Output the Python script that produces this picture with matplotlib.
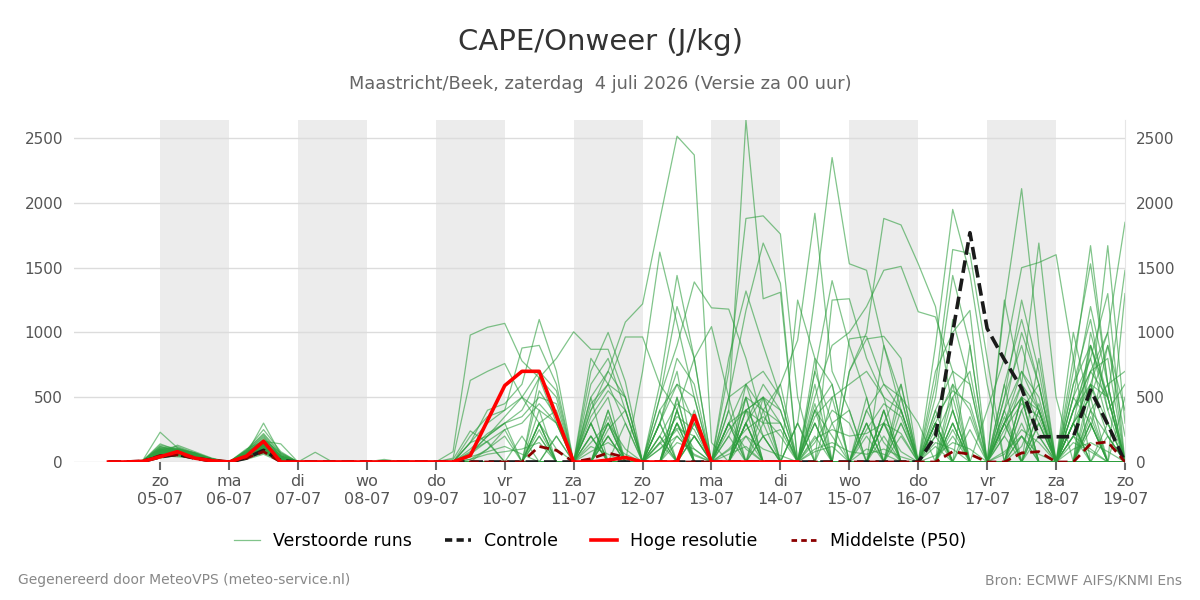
import numpy as np
import pandas as pd
import matplotlib
matplotlib.use('Agg')
import matplotlib.pyplot as plt
from matplotlib.lines import Line2D

# 6-hourly steps, 04-07 06:00 .. 19-07 00:00 (60 values)
times = pd.date_range('2026-07-04 06:00', '2026-07-19 00:00', freq='6h')

# ensemble members (J/kg), grouped per day: 04-07 (3) | 05-07 .. 18-07 (4 each) | 19-07 00:00
members = [
    [0,0,10, 80,60,40,10, 0,40,120,20, 0,0,0,0, 0,0,0,0, 0,80,980,1040, 1070,780,650,300, 0,150,300,100, 0,0,200,60, 0,100,250,350, 200,0,150,400, 300,0,300,80, 0,120,0,250, 0,0,120,450, 0,200,100,0, 0],
    [0,0,5, 120,90,50,15, 0,80,200,40, 0,0,0,0, 0,0,0,0, 0,0,150,400, 450,600,1100,700, 0,200,0,0, 0,100,250,0, 0,300,100,0, 0,0,400,200, 0,0,0,500, 300,0,200,0, 0,0,400,0, 0,0,250,900, 200],
    [0,0,15, 230,110,60,20, 0,30,90,10, 0,0,0,0, 0,0,0,0, 0,30,630,700, 760,500,300,100, 0,0,250,400, 0,150,0,0, 0,200,500,400, 300,0,450,0, 0,300,0,0, 0,0,250,0, 0,350,0,200, 0,0,500,0, 0],
    [0,0,0, 40,70,60,20, 0,60,300,60, 0,0,0,0, 0,0,0,0, 0,0,60,200, 300,400,650,800, 1005,870,870,500, 0,0,300,100, 0,0,0,400, 0,0,200,0, 0,400,150,0, 0,0,0,350, 0,0,200,0, 0,300,0,0, 0],
    [0,0,10, 60,130,80,30, 0,100,160,140, 0,0,0,0, 0,0,0,0, 0,20,240,150, 0,0,0,200, 0,700,1000,620, 0,0,0,200, 0,300,0,200, 250,0,700,300, 0,0,200,0, 0,300,0,0, 0,0,500,0, 0,0,400,0, 0],
    [0,0,0, 30,50,30,5, 0,20,60,0, 0,75,0,0, 0,0,0,0, 0,0,0,100, 200,0,0,0, 0,400,700,1080, 1220,1870,2515,2370, 150,0,0,0, 0,300,0,0, 0,0,400,0, 0,0,500,0, 0,200,0,0, 0,0,0,300, 0],
    [0,0,10, 90,80,50,20, 0,50,150,30, 0,0,0,0, 0,0,0,0, 0,0,0,0, 0,0,300,400, 0,200,0,0, 700,1620,1070,500, 0,0,300,0, 0,0,0,0, 0,0,400,0, 0,200,0,0, 0,0,0,400, 0,0,300,0, 0],
    [0,0,5, 70,100,60,25, 0,70,180,50, 0,0,0,0, 0,0,0,0, 0,0,0,0, 0,0,0,0, 0,400,600,965, 965,600,400,800, 1045,500,0,0, 0,0,300,0, 0,0,0,300, 0,0,0,0, 0,600,0,0, 0,0,0,200, 0],
    [0,0,10, 50,40,30,10, 0,30,100,20, 0,0,0,0, 0,20,0,0, 0,0,20,100, 250,0,0,0, 0,300,0,0, 0,600,1440,800, 0,0,0,200, 0,0,0,500, 0,0,0,0, 0,250,0,0, 0,0,400,600, 0,0,600,200, 0],
    [0,0,10, 100,70,50,15, 0,60,130,20, 0,0,0,0, 0,0,0,0, 0,0,0,0, 0,0,250,0, 0,0,400,0, 0,500,900,1390, 1190,1180,800,300, 0,0,0,0, 0,300,0,0, 0,0,0,0, 0,0,0,300, 0,0,0,0, 0],
    [0,0,0, 60,90,70,20, 0,40,140,40, 0,0,0,0, 0,0,0,0, 0,0,0,0, 0,0,0,0, 0,0,350,0, 0,200,0,0, 0,400,2640,1260, 1310,0,0,0, 0,0,300,0, 0,0,0,0, 0,300,0,0, 0,0,0,0, 0],
    [0,0,10, 110,100,60,20, 0,90,210,60, 0,0,0,0, 0,0,0,0, 0,0,0,0, 0,0,400,0, 0,0,0,0, 0,0,300,0, 0,700,1880,1900, 1760,500,0,0, 0,0,0,200, 0,0,0,0, 0,0,0,0, 0,0,350,0, 0],
    [0,0,5, 90,60,40,10, 0,50,110,30, 0,0,0,0, 0,0,0,0, 0,0,0,0, 0,0,0,0, 0,0,200,0, 0,300,0,0, 0,500,1170,1690, 1380,0,0,0, 0,0,0,0, 0,300,0,0, 0,0,0,0, 0,200,0,0, 0],
    [0,0,10, 140,90,50,20, 0,70,170,70, 0,0,0,0, 0,10,0,0, 0,0,0,0, 0,0,200,0, 0,0,300,0, 0,0,0,200, 0,0,0,300, 600,940,1920,700, 400,0,0,0, 0,0,300,0, 0,0,0,0, 0,0,0,0, 500],
    [0,0,0, 50,80,50,20, 0,40,90,10, 0,0,0,0, 0,0,0,0, 0,0,0,0, 0,0,0,0, 0,0,0,0, 0,400,0,0, 0,0,500,0, 0,300,1276,2350, 1530,1480,900,500, 0,0,0,0, 0,0,200,0, 0,0,0,0, 0],
    [0,0,10, 70,70,40,10, 0,60,140,30, 0,0,0,0, 0,0,0,0, 0,0,0,0, 0,0,0,0, 0,200,0,0, 0,0,500,0, 0,0,300,600, 400,0,0,0, 700,1000,1880,1830, 1530,1200,400,0, 0,0,0,300, 0,0,0,0, 0],
    [0,0,10, 60,100,70,20, 0,50,100,40, 0,0,0,0, 0,0,0,0, 0,0,0,0, 0,0,0,0, 0,0,0,300, 0,0,0,0, 0,200,0,0, 0,0,500,900, 1000,1200,1480,1510, 1160,1120,700,0, 0,0,0,0, 0,300,0,0, 0],
    [0,0,5, 80,60,50,10, 0,30,80,20, 0,0,0,0, 0,0,0,0, 0,0,0,0, 0,0,0,0, 0,0,0,0, 0,0,400,0, 0,0,300,0, 0,0,0,0, 0,0,0,400, 0,900,1950,1450, 600,0,0,0, 0,0,300,0, 0],
    [0,0,10, 100,80,60,20, 0,60,150,30, 0,0,0,0, 0,0,0,0, 0,0,0,0, 0,0,200,0, 0,0,0,0, 0,0,0,0, 0,0,400,500, 300,0,0,0, 0,0,300,600, 0,600,1640,1610, 800,0,0,0, 0,0,0,0, 0],
    [0,0,0, 50,70,40,15, 0,40,120,30, 0,0,0,0, 0,0,0,0, 0,0,0,0, 0,0,0,0, 0,0,0,0, 0,300,0,0, 0,0,600,200, 0,0,0,0, 0,0,0,300, 0,0,0,0, 0,1200,2110,900, 0,0,0,0, 0],
    [0,0,10, 90,110,70,25, 0,80,190,50, 0,0,0,0, 0,0,0,0, 0,0,0,0, 0,0,0,0, 0,0,400,0, 0,300,700,0, 0,0,0,0, 0,0,0,0, 0,300,0,0, 0,0,0,0, 400,800,1500,1540, 1600,800,0,0, 0],
    [0,0,10, 70,60,40,15, 0,40,110,30, 0,0,0,0, 0,0,0,0, 0,0,0,0, 0,0,0,0, 0,0,0,0, 0,0,0,0, 0,300,0,0, 0,0,800,0, 0,0,0,0, 0,0,400,0, 0,300,600,1690, 500,0,0,0, 0],
    [0,0,5, 60,90,60,20, 0,50,130,40, 0,0,0,0, 0,0,0,0, 0,0,0,0, 0,0,0,0, 0,500,0,0, 0,0,0,300, 0,0,0,0, 0,0,0,0, 0,0,0,0, 0,0,400,0, 0,0,0,0, 0,700,1670,600, 0],
    [0,0,10, 80,70,50,15, 0,70,160,40, 0,0,0,0, 0,0,0,0, 0,0,0,0, 0,0,0,0, 0,0,0,0, 0,0,400,0, 0,0,0,500, 0,0,300,0, 0,0,0,0, 0,0,0,0, 0,400,0,0, 0,300,500,1670, 300],
    [0,0,0, 40,60,40,10, 0,30,80,10, 0,0,0,0, 0,0,0,0, 0,0,0,0, 0,0,0,0, 0,0,300,0, 0,0,0,0, 0,0,0,0, 0,0,0,0, 0,0,900,400, 0,0,0,0, 0,0,500,0, 0,400,700,1000, 1850],
    [0,0,10, 120,80,50,20, 0,60,140,40, 0,0,0,0, 0,0,0,0, 0,0,200,350, 400,880,900,600, 0,300,0,0, 0,0,300,0, 0,400,0,0, 0,0,300,0, 0,0,400,0, 0,300,0,0, 0,0,300,0, 0,0,900,500, 1480],
    [0,0,5, 70,90,60,20, 0,50,120,30, 0,0,0,0, 0,0,0,0, 0,0,70,200, 350,500,400,300, 0,0,300,0, 0,0,0,400, 0,800,1320,900, 500,0,0,0, 0,200,0,0, 0,0,300,0, 0,0,0,400, 0,0,0,0, 0],
    [0,0,10, 90,70,40,15, 0,70,150,40, 0,0,0,0, 0,0,0,0, 0,0,0,0, 0,0,300,0, 0,300,0,0, 0,0,400,0, 0,0,300,0, 0,1250,800,600, 0,0,0,0, 0,500,1440,900, 0,0,0,0, 0,0,1000,500, 0],
    [0,0,0, 50,50,30,10, 0,30,80,20, 0,0,0,0, 0,0,0,0, 0,0,0,0, 0,200,0,0, 0,0,200,0, 0,300,600,500, 0,0,0,0, 0,0,0,1250, 1260,800,500,0, 0,0,300,0, 0,500,1250,700, 0,0,0,0, 0],
    [0,0,10, 100,120,70,25, 0,90,220,70, 0,0,0,0, 0,0,0,0, 0,0,150,200, 300,0,0,0, 0,600,800,400, 0,0,0,200, 0,0,300,0, 0,0,0,0, 950,970,600,400, 0,0,0,0, 0,300,0,0, 0,800,1530,600, 0],
    [0,0,5, 60,80,50,15, 0,40,100,30, 0,0,0,0, 0,0,0,0, 0,0,0,0, 0,0,0,0, 0,800,600,300, 0,200,0,0, 0,0,400,0, 0,0,700,1400, 900,500,0,0, 0,700,1000,1170, 0,0,0,0, 0,0,300,0, 0],
    [0,0,10, 80,60,50,10, 0,50,140,30, 0,0,0,0, 0,0,0,0, 0,0,0,0, 0,0,0,200, 0,0,0,0, 0,500,1200,800, 0,0,0,0, 0,300,0,0, 0,0,0,0, 0,0,0,900, 0,400,700,400, 0,1000,400,200, 0],
    [0,0,0, 60,70,40,10, 0,60,130,30, 0,0,0,0, 0,0,0,0, 0,0,0,0, 0,0,300,0, 0,0,0,0, 0,0,300,0, 0,500,600,400, 600,0,0,0, 700,950,970,800, 0,0,0,0, 0,1250,600,400, 0,0,0,0, 0],
    [0,0,10, 110,90,60,20, 0,80,160,50, 0,0,0,0, 0,0,0,0, 0,0,80,160, 250,300,450,300, 0,0,200,0, 0,300,800,600, 0,0,0,0, 0,0,400,0, 0,0,0,0, 0,300,0,0, 0,0,0,0, 0,600,900,400, 600],
    [0,0,5, 50,60,50,15, 0,40,90,20, 0,0,0,0, 0,0,0,0, 0,0,0,0, 0,0,0,0, 0,300,500,0, 0,0,0,0, 0,0,400,200, 0,0,0,0, 0,500,0,0, 0,0,1100,600, 0,0,0,0, 0,300,0,0, 1300],
    [0,0,10, 70,80,60,20, 0,60,120,30, 0,0,0,0, 0,0,0,0, 0,0,0,0, 0,0,550,350, 0,0,0,0, 0,400,600,300, 0,0,300,500, 400,0,600,0, 0,0,0,0, 0,0,0,0, 0,600,1100,600, 0,500,1200,600, 0],
    [0,0,10, 90,100,60,20, 0,70,150,40, 0,0,0,0, 0,0,0,0, 0,0,100,220, 300,350,500,450, 0,0,0,0, 0,0,0,0, 0,0,500,0, 0,0,0,0, 0,400,600,500, 0,0,0,0, 0,0,0,800, 0,200,600,1000, 0],
    [0,0,0, 40,50,40,10, 0,30,70,10, 0,0,0,0, 0,0,0,0, 0,0,0,0, 0,0,0,0, 0,0,0,0, 0,0,0,300, 0,0,0,0, 0,0,400,600, 0,0,0,0, 0,400,0,0, 0,300,500,200, 0,400,800,300, 0],
    [0,0,10, 100,80,50,15, 0,60,140,40, 0,0,0,0, 0,0,0,0, 0,0,0,0, 0,0,650,500, 0,450,600,500, 0,0,0,0, 0,0,0,0, 0,0,0,0, 0,0,300,0, 0,200,500,700, 0,0,0,0, 0,500,800,1300, 0],
    [0,0,5, 80,60,40,10, 0,50,110,20, 0,0,0,0, 0,0,0,0, 0,0,0,0, 0,0,0,0, 0,0,0,0, 0,0,500,0, 0,250,400,300, 300,0,0,0, 0,0,0,600, 0,0,0,0, 0,200,600,300, 0,300,500,900, 400],
    [0,0,10, 70,90,60,20, 0,60,170,40, 0,0,0,0, 0,0,0,0, 0,0,0,0, 0,0,300,0, 0,0,0,0, 0,0,0,0, 0,0,200,0, 0,0,0,0, 0,250,450,350, 0,0,0,0, 0,300,500,400, 0,400,600,300, 0],
    [0,0,0, 50,70,40,15, 0,40,100,20, 0,0,0,0, 0,0,0,0, 0,0,0,0, 0,0,0,0, 0,0,0,0, 0,150,350,250, 0,0,0,0, 0,0,0,300, 400,0,0,0, 0,0,600,0, 0,500,900,400, 0,200,700,500, 0],
    [0,0,10, 130,100,70,25, 0,90,250,80, 0,0,0,0, 0,0,0,0, 0,0,150,300, 400,500,700,550, 0,500,700,500, 0,0,0,0, 0,300,600,700, 500,0,0,0, 0,0,0,0, 0,400,700,600, 0,0,0,0, 0,400,700,800, 0],
    [0,0,5, 60,50,30,10, 0,30,70,10, 0,0,0,0, 0,0,0,0, 0,0,40,80, 120,60,0,0, 0,80,150,60, 0,100,200,50, 0,60,120,0, 0,0,100,150, 80,60,100,40, 0,50,150,100, 0,80,200,60, 0,100,150,80, 0],
    [0,0,10, 90,70,50,15, 0,50,130,30, 0,0,0,0, 0,0,0,0, 0,0,0,0, 0,0,0,0, 0,0,0,0, 0,200,450,350, 0,0,0,0, 0,0,0,0, 0,0,0,0, 0,300,0,0, 0,250,450,350, 0,300,900,500, 0],
    [0,0,0, 70,80,50,15, 0,50,120,30, 0,0,0,0, 0,0,0,0, 0,0,60,160, 0,0,0,0, 0,0,0,0, 0,0,0,0, 0,300,400,500, 0,0,350,500, 600,700,500,400, 0,0,0,0, 0,0,0,0, 0,300,600,500, 0],
    [0,0,10, 60,70,40,10, 0,40,90,20, 0,0,0,0, 0,0,0,0, 0,0,20,60, 80,100,150,0, 0,120,60,0, 0,0,150,100, 0,90,200,100, 50,0,80,120, 0,100,60,0, 0,150,100,0, 0,60,250,150, 0,150,80,0, 0],
    [0,0,5, 100,90,60,20, 0,70,140,40, 0,0,0,0, 0,0,0,0, 0,0,0,0, 0,0,0,0, 0,350,550,400, 0,0,0,0, 0,0,0,0, 0,0,0,0, 0,0,0,0, 0,350,550,450, 0,0,500,0, 0,600,1100,400, 0],
    [0,0,10, 80,60,40,10, 0,50,100,20, 0,0,0,0, 0,0,0,0, 0,0,0,0, 0,0,0,0, 0,0,0,0, 0,0,0,0, 0,0,0,0, 0,0,180,250, 200,220,300,220, 0,0,0,0, 0,300,700,500, 0,0,400,600, 700],
    [0,0,0, 50,60,40,10, 0,40,80,20, 0,0,0,0, 0,0,0,0, 0,0,0,0, 0,0,0,0, 0,0,0,0, 0,140,260,200, 0,0,0,0, 0,0,0,0, 0,0,0,0, 0,300,600,400, 0,400,1000,600, 0,500,300,0, 0],
]

controle = [0,0,5, 40,60,30,10, 0,30,90,10, 0,0,0,0, 0,0,0,0, 0,0,0,0, 0,0,0,0, 0,0,0,0, 0,0,0,0,
            0,0,0,0, 0,0,0,0, 0,0,0,0, 0,200,1000,1770, 1030,790,570,195, 195,195,555,290, 0]
nan = np.nan
hoge_resolutie = [0,0,5, 40,80,30,10, 0,45,160,0, 0,0,0,0, 0,0,0,0, 0,0,50,320, 590,700,700,355,
                  0,0,15,35, 0,0,0,360, 0,0,0,0, 0,0] + [nan] * 19
p50 = [0,0,5, 50,55,30,5, 0,30,80,0, 0,0,0,0, 0,0,0,0, 0,0,0,0, 0,0,120,90, 0,25,70,35, 0,0,0,0,
       0,0,0,0, 0,0,0,0, 0,0,0,0, 0,0,80,60, 0,0,70,80, 0,0,140,155, 0]

day_names = ['zo', 'ma', 'di', 'wo', 'do', 'vr', 'za', 'zo', 'ma', 'di', 'wo', 'do', 'vr', 'za', 'zo']
day_dates = pd.date_range('2026-07-05', '2026-07-19', freq='D')
shaded_days = ['2026-07-05', '2026-07-07', '2026-07-09', '2026-07-11', '2026-07-13', '2026-07-15', '2026-07-17']

fig = plt.figure(figsize=(12, 6), dpi=100)
ax = fig.add_axes([74/1200, 138/600, 1051/1200, 342/600])

for d in shaded_days:
    d = pd.Timestamp(d)
    ax.axvspan(d, d + pd.Timedelta(days=1), color='#ececec', lw=0, zorder=0)

for m in members:
    ax.plot(times, m, color='#2e9e3e', alpha=0.6, lw=0.9, zorder=2)
ax.plot(times, controle, color='#1a1a1a', lw=2.6, ls=(0, (3.5, 1.6)), zorder=4)
ax.plot(times, p50, color='#8b0000', lw=2.0, ls=(0, (3.5, 2)), zorder=5)
ax.plot(times, hoge_resolutie, color='#ff0000', lw=2.6, zorder=6)

ax.set_xlim(pd.Timestamp('2026-07-03 18:00'), pd.Timestamp('2026-07-19 00:00'))
ax.set_ylim(0, 2640)
ax.set_yticks([0, 500, 1000, 1500, 2000, 2500])
ax.set_xticks(day_dates)
ax.set_xticklabels([f'{n}\n{d:%d-%m}' for n, d in zip(day_names, day_dates)])
ax.tick_params(axis='x', length=6, width=1.5, color='#666666', labelcolor='#555555', labelsize=11.5, pad=3)
ax.tick_params(axis='y', length=0, labelcolor='#555555', labelsize=11, pad=8, labelright=True)
ax.grid(axis='y', color='#dcdcdc', lw=1, zorder=1)
ax.set_axisbelow(True)
for s in ['top', 'left', 'bottom']:
    ax.spines[s].set_visible(False)
ax.spines['right'].set_color('#e6e6e6')

fig.text(0.5, 1 - 42/600, 'CAPE/Onweer (J/kg)', ha='center', va='center', fontsize=21, color='#333333')
fig.text(0.5, 1 - 84/600, 'Maastricht/Beek, zaterdag  4 juli 2026 (Versie za 00 uur)',
         ha='center', va='center', fontsize=12.75, color='#666666')

handles = [
    Line2D([], [], color='#2e9e3e', alpha=0.6, lw=0.9),
    Line2D([], [], color='#1a1a1a', lw=2.6, ls=(0, (2, 1.2))),
    Line2D([], [], color='#ff0000', lw=2.6),
    Line2D([], [], color='#8b0000', lw=2.0, ls=(0, (2, 1.5))),
]
labels = ['Verstoorde runs', 'Controle', 'Hoge resolutie', 'Middelste (P50)']
fig.legend(handles, labels, loc='center', bbox_to_anchor=(0.5, 1 - 541/600), ncol=4, frameon=False,
           fontsize=12.5, handlelength=1.5, columnspacing=1.9, handletextpad=0.75)

fig.text(18/1200, 1 - 580/600, 'Gegenereerd door MeteoVPS (meteo-service.nl)', ha='left', va='center',
         fontsize=10, color='#888888')
fig.text(1182/1200, 1 - 580/600, 'Bron: ECMWF AIFS/KNMI Ens', ha='right', va='center',
         fontsize=10, color='#888888')

fig.savefig('out.png', dpi=100)
